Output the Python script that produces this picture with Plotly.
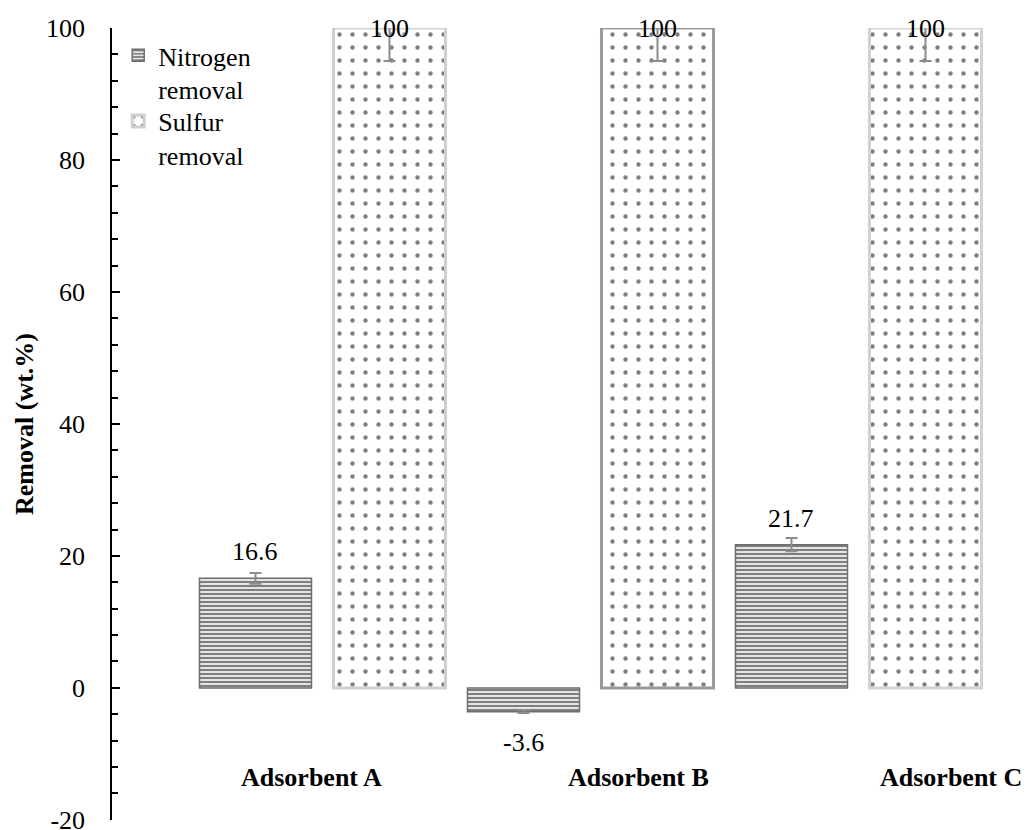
import plotly.graph_objects as go

# ---- data -------------------------------------------------------------
categories = ["Adsorbent A", "Adsorbent B", "Adsorbent C"]
nitrogen_removal = [16.6, -3.6, 21.7]
nitrogen_error = [0.8, 0.2, 1.0]
sulfur_removal = [100, 100, 100]
sulfur_error = [5, 5, 5]
y_tick_values = [-20, 0, 20, 40, 60, 80, 100]
y_tick_labels = ["-20", "0", "20", "40", "60", "80", "100"]

# category label centres (category units) and their height (data units)
category_label_x = [-0.04, 1.18, 2.345]
category_label_y = -13.6

FONT = "Times New Roman, Liberation Serif, serif"
FONT_SIZE = 26
Y_MIN, Y_MAX = -20, 100
BARGAP = 0.0
BARGROUPGAP = 0.164

fig = go.Figure()

fig.add_trace(go.Bar(
    name="Nitrogen<br>removal",
    x=categories,
    y=nitrogen_removal,
    marker=dict(
        color="white",
        line=dict(color="#6e6e6e", width=1.5),
        pattern=dict(shape="-", fgcolor="black", bgcolor="white",
                     size=4, solidity=0.6),
    ),
    error_y=dict(type="data", array=nitrogen_error, color="#8c8c8c",
                 thickness=2, width=6),
    legend="legend",
))

fig.add_trace(go.Bar(
    name="Sulfur<br>removal",
    x=categories,
    y=sulfur_removal,
    marker=dict(
        color="white",
        line=dict(color=["#cfcfcf", "#9a9a9a", "#d2d2d2"], width=3),
        pattern=dict(shape=".", fgcolor="black", bgcolor="white",
                     size=13, solidity=0.09),
    ),
    error_y=dict(type="data", array=sulfur_error, color="#8c8c8c",
                 thickness=2, width=6),
    legend="legend2",
))

# ---- value labels -------------------------------------------------------
annotations = []
series = [(nitrogen_removal, nitrogen_error), (sulfur_removal, sulfur_error)]
slot = (1 - BARGAP) / len(series)
for k, (values, errors) in enumerate(series):
    offset = (k - (len(series) - 1) / 2) * slot
    for i, (v, e) in enumerate(zip(values, errors)):
        if v + e >= Y_MAX:
            anchor, shift = "middle", 0
        elif v >= 0:
            anchor, shift = "bottom", 10
        else:
            anchor, shift = "top", -14
        annotations.append(dict(
            x=i + offset, y=v, xref="x", yref="y",
            text=f"{v:g}", showarrow=False,
            yanchor=anchor, yshift=shift,
            font=dict(family=FONT, size=FONT_SIZE, color="black"),
        ))

for name, lx in zip(categories, category_label_x):
    annotations.append(dict(
        x=lx, y=category_label_y, xref="x", yref="y",
        text=f"<b>{name}</b>", showarrow=False, yanchor="middle",
        font=dict(family=FONT, size=FONT_SIZE, color="black"),
    ))

legend_style = dict(
    font=dict(family=FONT, size=FONT_SIZE, color="black"),
    bgcolor="rgba(0,0,0,0)",
    borderwidth=0,
    xanchor="left",
    yanchor="top",
    valign="top",
)

fig.update_layout(
    width=1032,
    height=830,
    margin=dict(l=112, r=32, t=28, b=10, autoexpand=False),
    paper_bgcolor="white",
    plot_bgcolor="white",
    barmode="group",
    bargap=BARGAP,
    bargroupgap=BARGROUPGAP,
    font=dict(family=FONT, size=FONT_SIZE, color="black"),
    annotations=annotations,
    showlegend=True,
    legend=dict(x=0.007, y=0.995, **legend_style),
    legend2=dict(x=0.007, y=0.912, **legend_style),
    xaxis=dict(
        range=[-0.7854, 2.528],
        showline=False,
        showticklabels=False,
        ticks="",
        showgrid=False,
        zeroline=False,
    ),
    yaxis=dict(
        range=[Y_MIN - 0.02, Y_MAX],
        tickvals=y_tick_values,
        ticktext=y_tick_labels,
        ticks="inside",
        ticklen=8,
        tickwidth=1.5,
        tickcolor="black",
        ticklabelstandoff=20,
        ticklabeloverflow="allow",
        minor=dict(dtick=4, ticks="inside", ticklen=6, tickwidth=1.5,
                   tickcolor="black", showgrid=False),
        showline=True,
        linecolor="black",
        linewidth=1.5,
        showgrid=False,
        zeroline=False,
        tickfont=dict(family=FONT, size=FONT_SIZE, color="black"),
        title=dict(text="<b>Removal (wt.%)</b>", standoff=5,
                   font=dict(family=FONT, size=FONT_SIZE, color="black")),
        automargin=False,
    ),
)

fig.write_html("out.html")
